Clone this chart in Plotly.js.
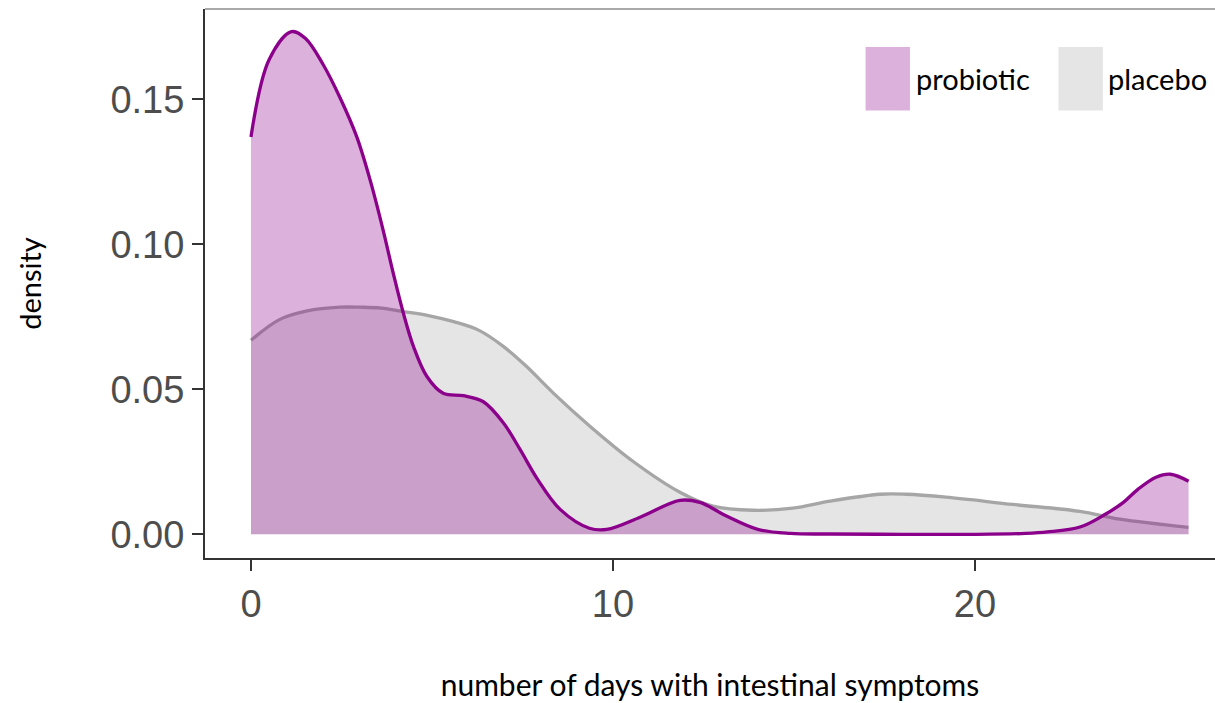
<!DOCTYPE html>
<html>
<head>
<meta charset="utf-8">
<script src="https://cdn.plot.ly/plotly-3.0.1.min.js"></script>
<style>
  html, body { margin: 0; padding: 0; background: #ffffff; }
  #chart { width: 1215px; height: 703px; }
</style>
</head>
<body>
<div id="chart"></div>
<script>
// ---- data ----
const probioticX = [0, 0.5, 1.12, 1.5, 2.0, 2.46, 2.92, 3.29, 3.65, 3.93, 4.21, 4.49, 4.86, 5.31, 5.87, 6.42, 6.98, 7.44, 7.9, 8.54, 9.35, 9.83, 10.75, 11.85, 12.4, 13.15, 14.0, 14.9, 16.0, 18.0, 20.0, 21.4, 22.0, 22.9, 23.6, 24.1, 24.5, 25.0, 25.4, 25.9];
const probioticY = [0.137, 0.1636, 0.1733, 0.171, 0.1618, 0.1505, 0.1371, 0.1222, 0.1049, 0.090, 0.0762, 0.0647, 0.0544, 0.0486, 0.0478, 0.0457, 0.0383, 0.0291, 0.0193, 0.0086, 0.0021, 0.0017, 0.0059, 0.0117, 0.011, 0.0062, 0.0017, 0.0003, 0.0001, 0, 0, 0.0003, 0.0008, 0.0025, 0.0069, 0.011, 0.0155, 0.0197, 0.0207, 0.0183];

const placeboX = [0, 0.8, 1.55, 2.46, 3.0, 3.6, 4.21, 4.9, 5.6, 6.3, 6.98, 7.6, 8.36, 9.37, 10.55, 11.85, 12.76, 13.87, 14.97, 15.99, 17.38, 18.1, 19.2, 21.05, 22.9, 24.0, 25.9];
const placeboY = [0.0669, 0.0741, 0.077, 0.0783, 0.0783, 0.078, 0.0768, 0.0754, 0.0733, 0.0703, 0.0647, 0.058, 0.0486, 0.0372, 0.0252, 0.0145, 0.0097, 0.0083, 0.009, 0.0114, 0.0138, 0.0138, 0.0128, 0.0103, 0.0079, 0.0052, 0.0024];

const xTickVals = [0, 10, 20];
const yTickVals = [0, 0.05, 0.10, 0.15];
const seriesNames = ['probiotic', 'placebo'];

const xTitle = 'number of days with intestinal symptoms';
const yTitle = 'density';

// ---- styles ----
const purpleLine = '#8B008B';
const purpleFill = 'rgba(139,0,139,0.30)';
const greyLine = '#A6A6A6';
const greyFill = '#E5E5E5';
const labelFont = 'Lato, "Open Sans", sans-serif';

const traces = [
  {
    x: placeboX, y: placeboY, name: seriesNames[1],
    type: 'scatter', mode: 'lines', fill: 'tozeroy', fillcolor: greyFill,
    line: { color: greyLine, width: 3.3, shape: 'spline', smoothing: 1 },
    showlegend: false, hoverinfo: 'skip'
  },
  {
    x: probioticX, y: probioticY, name: seriesNames[0],
    type: 'scatter', mode: 'lines', fill: 'tozeroy', fillcolor: purpleFill,
    line: { color: purpleLine, width: 3.3, shape: 'spline', smoothing: 1 },
    showlegend: false, hoverinfo: 'skip'
  }
];

// manual legend (large swatches like the reference)
const legendShapes = [
  { type: 'rect', xref: 'paper', yref: 'paper', x0: 0.654, x1: 0.698, y0: 0.815, y1: 0.931, fillcolor: purpleFill, line: { width: 0 } },
  { type: 'rect', xref: 'paper', yref: 'paper', x0: 0.845, x1: 0.889, y0: 0.815, y1: 0.931, fillcolor: greyFill, line: { width: 0 } },
  // thin top border of the panel
  { type: 'line', xref: 'paper', yref: 'paper', x0: 0, x1: 1, y0: 1, y1: 1, line: { color: '#8c8c8c', width: 1.5 } }
];
const legendAnn = [
  { xref: 'paper', yref: 'paper', x: 0.702, y: 0.873, xanchor: 'left', yanchor: 'middle', showarrow: false,
    text: seriesNames[0], font: { family: labelFont, size: 29, color: '#000000' } },
  { xref: 'paper', yref: 'paper', x: 0.892, y: 0.873, xanchor: 'left', yanchor: 'middle', showarrow: false,
    text: seriesNames[1], font: { family: labelFont, size: 29, color: '#000000' } }
];

const layout = {
  width: 1215, height: 703,
  margin: { l: 205, r: 0, t: 9, b: 145 },
  paper_bgcolor: '#ffffff', plot_bgcolor: '#ffffff',
  xaxis: {
    range: [-1.27, 26.63], tickvals: xTickVals, ticktext: xTickVals.map(String),
    showgrid: false, zeroline: false,
    showline: true, linecolor: '#333333', linewidth: 2,
    ticks: 'outside', ticklen: 11, tickwidth: 2, tickcolor: '#333333',
    tickfont: { family: 'Liberation Sans, Arial, sans-serif', size: 38, color: '#4d4d4d' },
    title: { text: xTitle, standoff: 51, font: { family: labelFont, size: 30, color: '#000000' } },
    automargin: false, fixedrange: true
  },
  yaxis: {
    range: [-0.00817, 0.1811], tickvals: yTickVals, ticktext: yTickVals.map(v => v.toFixed(2)),
    showgrid: false, zeroline: false,
    showline: true, linecolor: '#333333', linewidth: 2,
    ticks: 'outside', ticklen: 11, tickwidth: 2, tickcolor: '#333333',
    tickfont: { family: 'Liberation Sans, Arial, sans-serif', size: 38, color: '#4d4d4d' },
    title: { text: yTitle, standoff: 60, font: { family: labelFont, size: 29, color: '#000000' } },
    automargin: false, fixedrange: true
  },
  shapes: legendShapes,
  annotations: legendAnn,
  showlegend: false
};

Plotly.newPlot('chart', traces, layout, { displayModeBar: false, staticPlot: true });
</script>
</body>
</html>
